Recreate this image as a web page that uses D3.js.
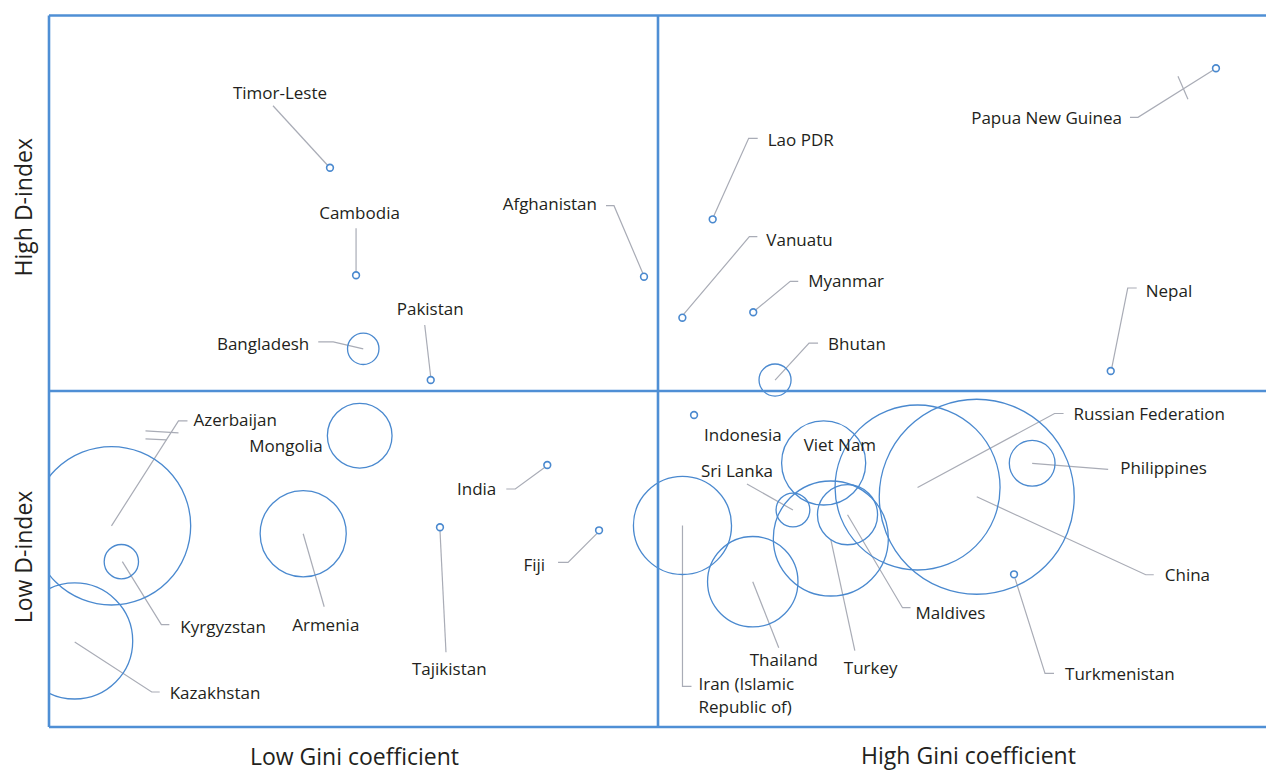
<!DOCTYPE html>
<html><head><meta charset="utf-8">
<script src="https://cdn.jsdelivr.net/npm/d3@7"></script>
<style>html,body{margin:0;padding:0;background:#fff;overflow:hidden}svg{display:block;overflow:hidden}</style>
</head><body>
<script>
// ---- data ----
const countries = ["Timor-Leste","Cambodia","Bangladesh","Pakistan","Afghanistan","Lao PDR","Vanuatu","Myanmar","Bhutan","Nepal","Papua New Guinea","Indonesia","India","Fiji","Tajikistan","Iran (Islamic Republic of)","Thailand","Sri Lanka","Viet Nam","Turkey","Maldives","Russian Federation","China","Philippines","Turkmenistan","Azerbaijan","Kazakhstan","Kyrgyzstan","Mongolia","Armenia"];
// Gini coefficient (relative position, 0-100, 50 = split)
const gini   = [23.07,25.21,25.80,31.34,48.85,54.49,52.00,57.82,59.61,87.17,95.81,52.96,40.91,45.16,32.10,52.01,57.78,61.08,63.60,64.19,65.56,71.31,76.17,80.72,79.23,5.13,2.11,5.94,25.51,20.87];
// D-index (relative position, 0-100, 50 = split)
const dindex = [79.73,65.41,55.62,51.46,65.22,72.86,59.76,60.48,51.46,52.66,92.97,46.43,38.99,29.27,29.72,29.99,21.62,32.29,39.29,28.05,31.59,35.64,34.26,39.24,22.72,29.94,12.80,24.60,43.35,28.76];
// bubble size (relative)
const size   = [0.12,0.12,2.6,0.12,0.12,0.12,0.12,0.12,2.7,0.12,0.12,0.12,0.12,0.12,0.12,25.3,21.5,3.0,18.6,34.8,9.5,71.6,100,5.5,0.12,66.0,35.4,3.1,11.0,19.5];
const axisTitlesX = ["Low Gini coefficient","High Gini coefficient"];
const axisTitlesY = ["Low D-index","High D-index"];

// ---- label layout (pixel offsets from bubble centre) ----
const labelLayout = {
  "Timor-Leste": {t:[-50,-68.5],a:"middle",l:[[-57,-62],[-2,-2]]},
  "Cambodia": {t:[3.5,-56],a:"middle",l:[[0,-47],[0,-3]]},
  "Bangladesh": {t:[-54,1],a:"end",l:[[-45,-7],[-30,-7],[0,0]]},
  "Pakistan": {t:[-34,-65],a:"start",l:[[-6,-55],[0,-3]]},
  "Afghanistan": {t:[-47,-67],a:"end",l:[[-38,-71],[-30,-71],[-1,-3]]},
  "Lao PDR": {t:[55,-73],a:"start",l:[[45,-81],[36,-81],[1,-3]]},
  "Vanuatu": {t:[84,-72],a:"start",l:[[75,-81],[67,-81],[1,-3]]},
  "Myanmar": {t:[55,-25],a:"start",l:[[45,-31],[37,-31],[2,-2]]},
  "Bhutan": {t:[53,-30],a:"start",l:[[43,-37],[34,-37],[0,0]]},
  "Nepal": {t:[35,-74],a:"start",l:[[26,-83],[17,-83],[1,-3]]},
  "Papua New Guinea": {t:[-94,56],a:"end",l:[[-86,49],[-78,49],[-3,2]],x:[[[-38,8],[-28,31]]]},
  "Indonesia": {t:[10,26],a:"start",l:null},
  "India": {t:[-51,30],a:"end",l:[[-41,24],[-32,24],[-2,2]]},
  "Fiji": {t:[-54,41],a:"end",l:[[-41,32],[-31,32],[-2,3]]},
  "Tajikistan": {t:[-28,148],a:"start",l:[[0,3],[6,125]]},
  "Iran (Islamic Republic of)": {t:[16,165],a:"start",lines:["Iran (Islamic","Republic of)"],l:[[0,0],[0,161],[9,161]]},
  "Thailand": {t:[-3,84],a:"start",l:[[0,0],[26,66]]},
  "Sri Lanka": {t:[-92,-33],a:"start",l:[[-46,-26],[0,0]]},
  "Viet Nam": {t:[-20,-12],a:"start",l:null},
  "Turkey": {t:[13,135],a:"start",l:[[0,1],[24,112]]},
  "Maldives": {t:[68,104],a:"start",l:[[0,0],[55,93],[63,93]]},
  "Russian Federation": {t:[156,-67],a:"start",l:[[0,0],[137,-74],[146,-74]]},
  "China": {t:[188,84],a:"start",l:[[0,0],[169,78],[177,78]]},
  "Philippines": {t:[88,11],a:"start",l:[[0,0],[76,6]]},
  "Turkmenistan": {t:[51,106],a:"start",l:[[1,4],[31,99],[40,99]]},
  "Azerbaijan": {t:[82,-100],a:"start",l:[[76,-105],[67,-105],[0,0]],x:[[[34,-95],[67,-93]],[[34,-87],[55,-86]]]},
  "Kazakhstan": {t:[95,58],a:"start",l:[[85,51],[77,51],[0,1]]},
  "Kyrgyzstan": {t:[59,71],a:"start",l:[[48,63],[40,63],[1,0]]},
  "Mongolia": {t:[-37,16],a:"end",l:null},
  "Armenia": {t:[-11,97],a:"start",l:[[0,0],[21,73]]}
};

const W = 1266, H = 771;
const svg = d3.select("body").append("svg").attr("width", W).attr("height", H).attr("viewBox", `0 0 ${W} ${H}`);

const x = d3.scaleLinear().domain([0, 50, 100]).range([49, 658, 1267]);
const y = d3.scaleLinear().domain([0, 50, 100]).range([727, 391, 15.5]);
const r = d3.scaleSqrt().domain([0, 100]).range([0, 97.5]);

const data = countries.map((c, i) => ({name: c, gx: gini[i], dy: dindex[i], s: size[i]}));

const frameColor = "#4f8fd5";
const bubbleColor = "#4a89cf";
const leaderColor = "#a9acb6";
const textColor = "#231f20";
const font = "'Open Sans', 'Noto Sans', sans-serif";

svg.append("defs").append("clipPath").attr("id", "frameClip")
  .append("rect").attr("x", x(0)).attr("y", y(100))
  .attr("width", x(100) - x(0)).attr("height", y(0) - y(100));

// leader lines
const line = d3.line();
const gLead = svg.append("g").attr("fill", "none").attr("stroke", leaderColor).attr("stroke-width", 1.2);
data.forEach(d => {
  const L = labelLayout[d.name];
  const cx = x(d.gx), cy = y(d.dy);
  if (L.l) gLead.append("path").attr("d", line(L.l.map(p => [cx + p[0], cy + p[1]])));
  if (L.x) L.x.forEach(seg => gLead.append("path").attr("d", line(seg.map(p => [cx + p[0], cy + p[1]]))));
});

// bubbles
svg.append("g").attr("clip-path", "url(#frameClip)")
  .selectAll("circle").data(data).join("circle")
  .attr("cx", d => x(d.gx)).attr("cy", d => y(d.dy))
  .attr("r", d => r(d.s))
  .attr("fill", "none")
  .attr("stroke", bubbleColor)
  .attr("stroke-width", d => r(d.s) < 6 ? 1.6 : 1.3);

// frame and quadrant dividers (right edge lies past the picture, as in the reference)
const gF = svg.append("g").attr("stroke", frameColor).attr("stroke-width", 2.6).attr("fill", "none");
gF.append("line").attr("x1", x(0)).attr("x2", W + 20).attr("y1", y(100)).attr("y2", y(100));
gF.append("line").attr("x1", x(0)).attr("x2", W + 20).attr("y1", y(0)).attr("y2", y(0));
gF.append("line").attr("x1", x(0)).attr("x2", x(0)).attr("y1", y(100)).attr("y2", y(0));
gF.append("line").attr("x1", x(50)).attr("x2", x(50)).attr("y1", y(100)).attr("y2", y(0));
gF.append("line").attr("x1", x(0)).attr("x2", W + 20).attr("y1", y(50)).attr("y2", y(50));

// labels
const gT = svg.append("g").attr("font-family", font).attr("font-size", 17).attr("fill", textColor);
data.forEach(d => {
  const L = labelLayout[d.name];
  const cx = x(d.gx), cy = y(d.dy);
  const t = gT.append("text").attr("x", cx + L.t[0]).attr("y", cy + L.t[1]).attr("text-anchor", L.a);
  if (L.lines) {
    L.lines.forEach((s, i) => t.append("tspan").attr("x", cx + L.t[0]).attr("dy", i ? 23 : 0).text(s));
  } else t.text(d.name);
});

// axis titles
const gA = svg.append("g").attr("font-family", font).attr("font-size", 23).attr("fill", textColor).attr("text-anchor", "middle");
gA.append("text").attr("x", (x(0) + x(50)) / 2 + 1).attr("y", 765).text(axisTitlesX[0]);
gA.append("text").attr("x", (x(50) + x(100)) / 2 + 6).attr("y", 764).text(axisTitlesX[1]);
gA.append("text").attr("transform", `translate(32,${(y(0) + y(50)) / 2 - 2}) rotate(-90)`).text(axisTitlesY[0]);
gA.append("text").attr("transform", `translate(32,${(y(50) + y(100)) / 2 + 4}) rotate(-90)`).text(axisTitlesY[1]);
</script>
</body></html>
